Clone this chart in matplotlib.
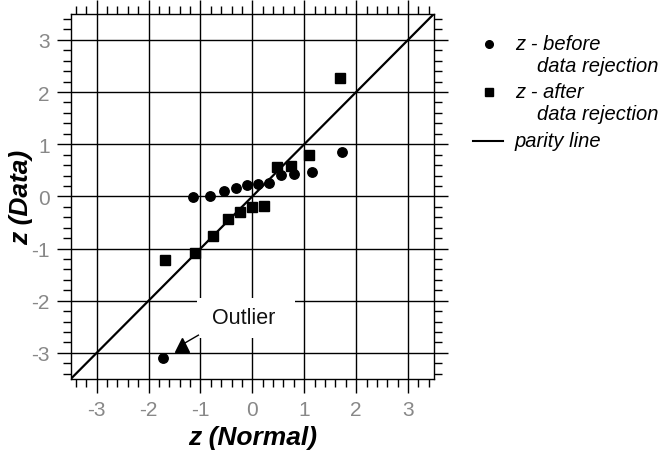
import matplotlib.pyplot as plt
from matplotlib.lines import Line2D
from matplotlib.patches import Rectangle
from matplotlib.ticker import MultipleLocator

plt.rcParams['font.family'] = ['Liberation Sans', 'DejaVu Sans']
plt.rcParams['axes.unicode_minus'] = False

# normal scores (12 points before rejection, 11 after)
z_norm_before = [-1.73, -1.15, -0.81, -0.55, -0.32, -0.10, 0.10, 0.32, 0.55, 0.81, 1.15, 1.73]
z_data_before = [-3.10, -0.02, 0.01, 0.10, 0.17, 0.22, 0.23, 0.25, 0.41, 0.42, 0.47, 0.85]
z_norm_after = [-1.69, -1.10, -0.75, -0.47, -0.23, 0.00, 0.23, 0.47, 0.75, 1.10, 1.69]
z_data_after = [-1.22, -1.09, -0.76, -0.44, -0.29, -0.21, -0.18, 0.56, 0.59, 0.79, 2.27]
parity = [-3.5, 3.5]
major_ticks = [-3, -2, -1, 0, 1, 2, 3]

fig = plt.figure(figsize=(6.7, 4.52), dpi=100)
ax = fig.add_axes([0.1055, 0.1593, 0.5423, 0.808])

ax.plot(parity, parity, color='black', lw=1.6, zorder=3)
ax.plot(z_norm_before, z_data_before, 'o', color='black', ms=6.8, zorder=4)
ax.plot(z_norm_after, z_data_after, 's', color='black', ms=6.5, zorder=4)

# outlier label with a white box over the grid
ax.add_patch(Rectangle((-1.06, -2.71), 1.88, 0.77, facecolor='white',
                       edgecolor='none', zorder=2))
ax.text(-0.17, -2.33, 'Outlier', ha='center', va='center', fontsize=15.5,
        color='#111111', zorder=5)
ax.plot([-1.04, -1.30], [-2.66, -2.81], color='black', lw=1, zorder=5)
ax.plot([-1.36], [-2.84], '^', color='black', ms=10, zorder=5)

ax.set_xlim(-3.5, 3.5)
ax.set_ylim(-3.5, 3.5)
ax.set_xticks(major_ticks)
ax.set_yticks(major_ticks)
ax.xaxis.set_minor_locator(MultipleLocator(0.2))
ax.yaxis.set_minor_locator(MultipleLocator(0.2))
ax.grid(True, which='major', color='black', lw=1)
ax.set_axisbelow(True)
ax.tick_params(which='both', direction='out', top=True, right=True,
               labeltop=False, labelright=False, colors='black',
               labelcolor='#888888', labelsize=15)
ax.tick_params(which='major', length=10, width=1, pad=5)
ax.tick_params(which='minor', length=6, width=1)
for sp in ax.spines.values():
    sp.set_linewidth(1)

ax.set_xlabel('z (Normal)', fontsize=19, fontweight='bold', style='italic')
ax.set_ylabel('z (Data)', fontsize=19, fontweight='bold', style='italic')
ax.xaxis.set_label_coords(0.5, -0.125)
ax.yaxis.set_label_coords(-0.102, 0.5)

# legend drawn beside the axes
leg_font = dict(fontsize=14.5, style='italic', va='center', ha='left', color='black')
fig.add_artist(Line2D([489 / 670], [1 - 45 / 452], marker='o', color='black', ms=5.5))
fig.text(515 / 670, 1 - 45 / 452, 'z - before', **leg_font)
fig.text(537 / 670, 1 - 67 / 452, 'data rejection', **leg_font)
fig.add_artist(Line2D([489 / 670], [1 - 93 / 452], marker='s', color='black', ms=5.5))
fig.text(515 / 670, 1 - 93 / 452, 'z - after', **leg_font)
fig.text(537 / 670, 1 - 114 / 452, 'data rejection', **leg_font)
fig.add_artist(Line2D([473 / 670, 503 / 670], [1 - 142 / 452] * 2, color='black', lw=1.5))
fig.text(514 / 670, 1 - 142 / 452, 'parity line', **leg_font)

fig.savefig('out.png', dpi=100)
